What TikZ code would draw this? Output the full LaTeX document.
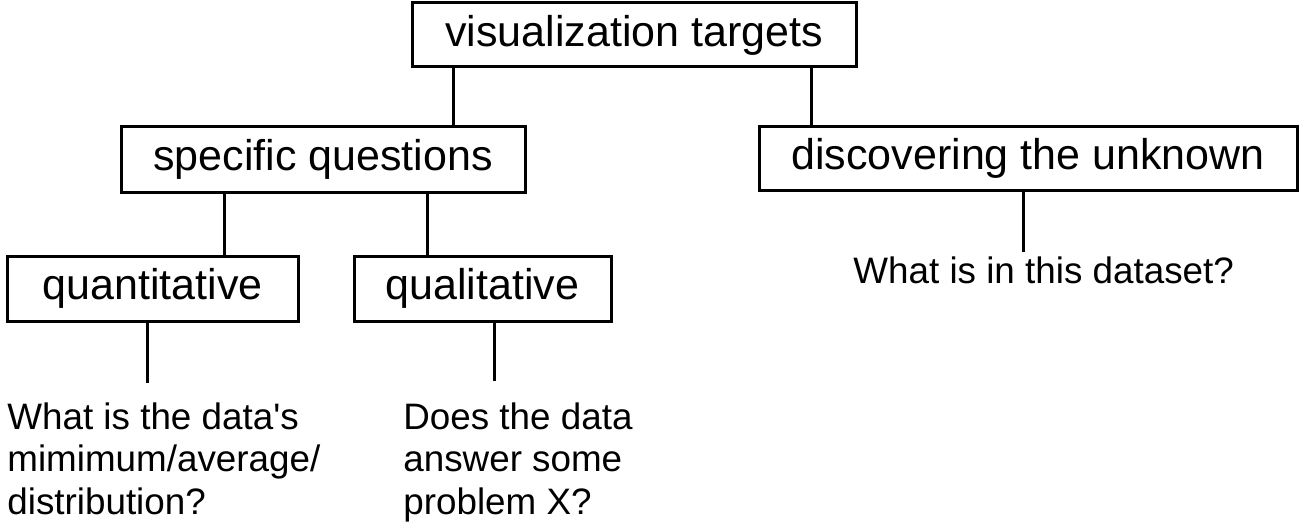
\documentclass[tikz,border=0pt]{standalone}
\usepackage{fontspec}
\setmainfont{Liberation Sans}
\usepackage{tikz}
\usetikzlibrary{positioning}
\tikzset{
  tbox/.style ={draw=black,line width=1.5pt,inner sep=0pt,align=center,
                font=\fontsize{21.5}{24}\selectfont},
  qtext/.style={inner sep=0pt,align=left,anchor=north west,
                font=\fontsize{18.4}{21.4}\selectfont},
  link/.style ={line width=1.5pt,draw=black}
}

\begin{document}
\begin{tikzpicture}[x=0.5pt,y=-0.5pt]
    \useasboundingbox (0,0) rectangle (1299,524);
    % top level
    \node[tbox,minimum width=222pt,minimum height=32pt] (vis) at (634,35) {visualization targets};
    % second level
    \node[tbox,minimum width=202pt,minimum height=33pt] (spec) at (323,159) {specific questions};
    \node[tbox,minimum width=269pt,minimum height=32pt] (disc) at (1028,158) {discovering the unknown};
    % third level
    \node[tbox,minimum width=145.5pt,minimum height=32.5pt] (quant) at (152.5,288.5) {quantitative};
    \node[tbox,minimum width=128.5pt,minimum height=32.5pt] (qual) at (482.5,288.5) {qualitative};
    % example questions
    \node[qtext] (quantq) at (7,402) {What is the data\textquotesingle s\\mimimum/average/\\distribution?};
    \node[qtext] (qualq) at (403,402) {Does the data\\answer some\\problem X?};
    \node[qtext] (discq) at (853,256.5) {What is in this dataset?};
    % connector columns
    \coordinate (c1) at (453,0);
    \coordinate (c2) at (811,0);
    \coordinate (c3) at (224,0);
    \coordinate (c4) at (427,0);
    \coordinate (c5) at (1023,0);
    \coordinate (c6) at (147,0);
    \coordinate (c7) at (494,0);
    \draw[link] (vis.south -| c1) -- (spec.north -| c1);
    \draw[link] (vis.south -| c2) -- (disc.north -| c2);
    \draw[link] (spec.south -| c3) -- (quant.north -| c3);
    \draw[link] (spec.south -| c4) -- (qual.north -| c4);
    \draw[link] (disc.south -| c5) -- ([yshift=2.5pt]discq.north -| c5);
    \draw[link] (quant.south -| c6) -- ([yshift=9.5pt]quantq.north -| c6);
    \draw[link] (qual.south -| c7) -- ([yshift=10.5pt]qualq.north -| c7);
\end{tikzpicture}
\end{document}
